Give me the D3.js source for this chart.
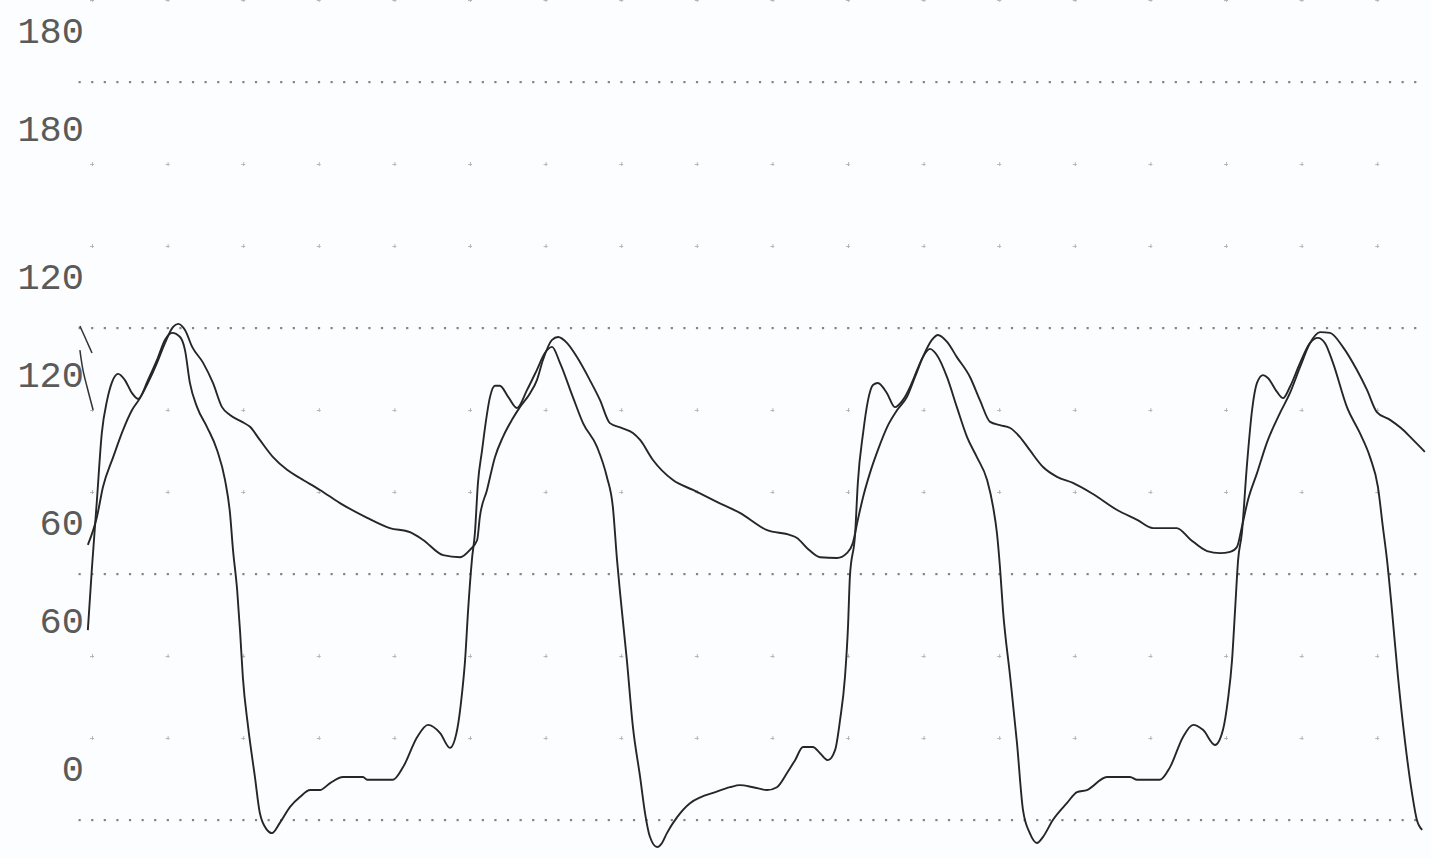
<!DOCTYPE html>
<html>
<head>
<meta charset="utf-8">
<script src="https://cdn.jsdelivr.net/npm/d3@7"></script>
<style>
  html, body { margin: 0; padding: 0; background: #fcfdfe; }
  svg { display: block; }
</style>
</head>
<body>
<svg id="chart" width="1431" height="858"></svg>
<script>
// Time in ms, pressure in mmHg.
const lvPressure = [
  [-11,46.3],[0,61.7],[13,78.0],[26,94.4],[40,102.4],[53,106.8],[69,108.8],[87,107.3],[106,104.1],[122,102.7],
  [148,107.3],[172,112.2],[193,117.1],[212,118.8],[233,117.8],[246,114.6],[259,106.6],[278,100.7],[304,95.9],
  [331,90.2],[352,82.9],[365,74.9],[373,65.9],[384,56.1],[392,45.6],[399,34.9],[413,22.7],[431,10.5],[444,1.7],
  [463,-2.4],[476,-3.2],[497,-0.7],[524,3.2],[550,5.6],[577,7.3],[603,7.3],[630,9.0],[664,10.5],[717,10.5],
  [728,9.8],[796,9.8],[823,12.9],[860,20.2],[889,23.2],[921,21.2],[947,17.6],[966,22.0],[979,31.0],[987,39.0],
  [995,51.2],[1005,63.4],[1013,70.0],[1021,82.2],[1032,90.2],[1040,95.9],[1053,103.2],[1066,105.9],[1079,105.9],
  [1101,103.2],[1124,100.5],[1151,104.9],[1177,109.8],[1198,113.9],[1217,115.4],[1238,111.5],[1272,103.2],
  [1299,96.8],[1336,91.0],[1362,83.7],[1378,76.3],[1389,63.4],[1397,55.4],[1415,39.0],[1431,22.7],[1450,10.5],
  [1463,1.7],[1476,-4.1],[1495,-6.6],[1508,-5.6],[1521,-3.2],[1548,0.7],[1582,4.1],[1611,5.6],[1643,6.6],
  [1688,8.0],[1714,8.5],[1749,8.0],[1786,7.3],[1812,8.0],[1839,11.5],[1860,14.6],[1881,17.8],[1907,17.8],
  [1926,16.3],[1947,14.6],[1966,17.1],[1979,24.4],[1992,34.9],[2000,47.1],[2005,59.3],[2019,70.0],[2026,82.2],
  [2040,94.4],[2053,102.4],[2066,106.1],[2079,106.6],[2103,104.1],[2124,100.7],[2145,102.4],[2164,105.6],
  [2183,109.8],[2198,112.9],[2217,114.9],[2235,113.4],[2262,108.0],[2288,100.7],[2315,93.4],[2341,88.5],
  [2368,82.9],[2384,76.3],[2394,70.0],[2402,61.7],[2410,51.2],[2429,34.9],[2447,18.8],[2463,2.4],[2481,-3.2],
  [2500,-5.6],[2516,-4.1],[2542,0],[2579,4.1],[2606,6.8],[2632,7.3],[2685,10.5],[2746,10.5],[2765,9.8],
  [2825,9.8],[2852,12.9],[2886,20.2],[2913,23.2],[2939,22.0],[2971,18.3],[2992,22.0],[3005,29.3],[3016,39.0],
  [3024,51.2],[3032,63.4],[3042,70.0],[3055,86.1],[3069,100.0],[3082,106.6],[3098,108.5],[3111,107.8],
  [3135,104.4],[3151,102.9],[3169,105.6],[3196,111.5],[3222,116.3],[3243,117.6],[3262,116.3],[3283,111.5],
  [3320,100.7],[3354,94.4],[3381,88.5],[3402,81.2],[3415,71.5],[3426,63.4],[3439,51.2],[3455,34.9],[3474,18.8],
  [3492,6.6],[3505,0],[3519,-2.4]
];

const aorticPressure = [
  [-11,67.1],[13,73.9],[29,81.2],[56,88.5],[82,95.1],[106,100.0],[127,102.9],[148,106.6],[172,111.5],[193,116.3],
  [214,120.2],[228,121.0],[246,119.5],[265,115.4],[294,111.5],[320,106.6],[344,100.7],[365,98.8],[397,97.1],
  [418,95.9],[444,92.7],[479,88.5],[516,85.4],[550,83.4],[603,80.5],[656,77.3],[728,73.7],[788,71.2],[841,70.2],
  [876,68.3],[929,64.6],[974,64.1],[1000,65.9],[1019,68.3],[1026,73.9],[1045,80.5],[1066,88.5],[1087,93.4],
  [1111,97.6],[1132,100.7],[1159,104.1],[1177,107.3],[1193,112.2],[1217,117.1],[1233,117.8],[1257,116.3],
  [1283,112.9],[1317,107.3],[1344,102.4],[1370,96.8],[1402,95.6],[1431,94.4],[1450,92.7],[1484,87.8],
  [1537,82.9],[1590,80.5],[1653,77.6],[1714,74.9],[1786,70.7],[1847,69.5],[1865,68.8],[1892,66.3],[1926,64.1],
  [1971,63.9],[1997,65.1],[2013,67.6],[2026,73.2],[2040,78.8],[2058,84.6],[2079,90.2],[2106,96.3],[2130,100.0],
  [2156,103.2],[2177,108.0],[2198,112.9],[2222,117.1],[2238,118.3],[2262,116.6],[2288,112.9],[2323,108.0],
  [2349,102.4],[2376,97.1],[2402,96.3],[2429,95.6],[2455,93.4],[2481,90.2],[2516,86.1],[2553,83.7],[2595,82.2],
  [2648,79.5],[2712,75.6],[2765,73.2],[2807,71.2],[2870,71.2],[2905,68.5],[2950,65.6],[2984,65.1],[3011,65.4],
  [3029,66.6],[3042,71.5],[3058,78.0],[3082,84.6],[3108,92.0],[3143,99.3],[3169,104.1],[3196,110.5],
  [3222,116.3],[3249,119.0],[3275,118.8],[3309,115.4],[3346,109.8],[3373,104.9],[3399,99.5],[3434,97.6],
  [3463,95.6],[3495,92.7],[3526,89.8]
];

// Scale labels printed on the tracing (two channels share the grid)
const upperTickLabels = [180, 120, 60, 0];
const lowerTickLabels = [180, 120, 60];
const majorGridValues = [180, 120, 60, 0];
const minorGridValues = [200, 160, 140, 100, 80, 40, 20];
const timeGridValues = d3.range(0, 3401, 200);

// Hand-drawn bracket next to the 120 label
const penMarks = [
  [[-32,120.5],[-13,116.6],[0,113.9]],
  [[-32,114.6],[-24,109.8],[-13,105.6],[3,100.0]]
];

const svg = d3.select("#chart");
const x = d3.scaleLinear().domain([0, 3600]).range([92, 92 + 1360.8]);
const y = d3.scaleLinear().domain([0, 180]).range([820, 82]);

// Dense dotted lines at the major values
const denseTimes = d3.range(-33, 3530, 200 / 6);
const gMajor = svg.append("g");
majorGridValues.forEach(v => {
  gMajor.selectAll(null).data(denseTimes).enter().append("rect")
    .attr("x", d => x(d) - 1)
    .attr("y", y(v) - 1)
    .attr("width", 2.2)
    .attr("height", 2.2)
    .attr("fill", "#80858b");
});

// Sparse cross marks at the minor values
const gMinor = svg.append("g").attr("stroke", "#b4b8bd").attr("stroke-width", 1);
minorGridValues.forEach(v => {
  timeGridValues.forEach(t => {
    gMinor.append("line").attr("x1", x(t) - 2).attr("x2", x(t) + 2)
      .attr("y1", y(v) + 0.5).attr("y2", y(v) + 0.5);
    gMinor.append("line").attr("x1", x(t) + 0.5).attr("x2", x(t) + 0.5)
      .attr("y1", y(v) - 2).attr("y2", y(v) + 2);
  });
});

// Scale labels
const labelStyle = sel => sel
  .attr("text-anchor", "end")
  .attr("font-family", "'Liberation Mono', 'DejaVu Sans Mono', monospace")
  .attr("font-size", 37)
  .attr("fill", "#5a5a5a");

svg.append("g").selectAll("text").data(upperTickLabels).enter().append("text")
  .call(labelStyle)
  .attr("x", 84)
  .attr("y", d => y(d) - 39)
  .text(d => d);

svg.append("g").selectAll("text").data(lowerTickLabels).enter().append("text")
  .call(labelStyle)
  .attr("x", 84)
  .attr("y", d => y(d) + 59)
  .text(d => d);

const line = d3.line()
  .x(d => x(d[0]))
  .y(d => y(d[1]))
  .curve(d3.curveMonotoneX);

const penLine = d3.line().x(d => x(d[0])).y(d => y(d[1])).curve(d3.curveCatmullRom);

svg.append("g").selectAll("path").data(penMarks).enter().append("path")
  .attr("d", penLine)
  .attr("fill", "none")
  .attr("stroke", "#333")
  .attr("stroke-width", 1.5);

svg.append("path").datum(aorticPressure)
  .attr("d", line)
  .attr("fill", "none")
  .attr("stroke", "#262626")
  .attr("stroke-width", 1.9)
  .attr("stroke-linejoin", "round");

svg.append("path").datum(lvPressure)
  .attr("d", line)
  .attr("fill", "none")
  .attr("stroke", "#262626")
  .attr("stroke-width", 1.9)
  .attr("stroke-linejoin", "round");
</script>
</body>
</html>
